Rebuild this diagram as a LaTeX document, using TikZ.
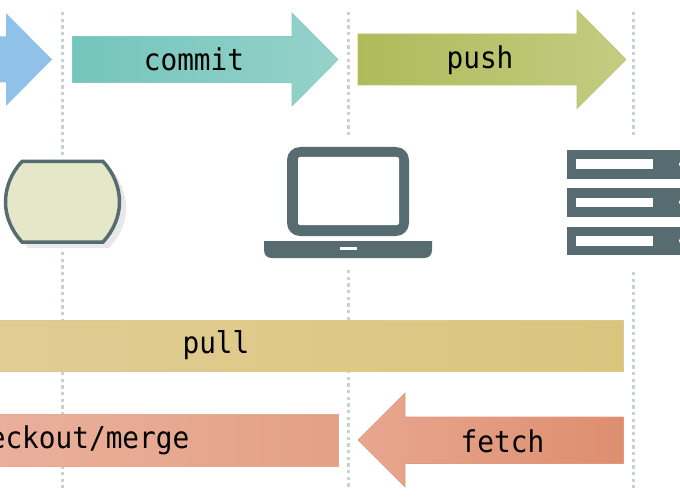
\documentclass[tikz,border=0pt]{standalone}
\usepackage{fontspec}
\newfontfamily\labelfont[FakeStretch=0.925]{DejaVu Sans Mono}
\definecolor{slate}{HTML}{566C70}
\definecolor{guide}{HTML}{C9D1D1}
\definecolor{stagea}{HTML}{90C2E9}
\definecolor{commita}{HTML}{74C5BB}
\definecolor{commitb}{HTML}{95D2CA}
\definecolor{pusha}{HTML}{AEBB59}
\definecolor{pushb}{HTML}{C3CC82}
\definecolor{pulla}{HTML}{E1CD94}
\definecolor{pullb}{HTML}{DBC47E}
\definecolor{mergea}{HTML}{EAB09C}
\definecolor{mergeb}{HTML}{E3A185}
\definecolor{fetcha}{HTML}{E7A78F}
\definecolor{fetchb}{HTML}{DE8E6F}
\definecolor{repofill}{HTML}{E4E7C8}
\tikzset{
  guideline/.style={color=guide,line width=3pt,dash pattern=on 3.3pt off 3.37pt},
  barlabel/.style={anchor=base,inner sep=0pt,font=\labelfont\fontsize{30}{30}\selectfont},
  icon/.style={fill=slate,draw=none},
  band/.style n args={2}{left color=#1,right color=#2,draw=#2!50!#1,line width=0.6pt}
}
\begin{document}
\begin{tikzpicture}[x=1pt,y=-1pt]
	\useasboundingbox (0,0) rectangle (680,500);
	\clip (0,0) rectangle (680,500);
	% guides
	\foreach \gx/\ga/\gb/\gc/\gd in {62/12/155/252/488,348/12/136/270/488,633/12/136/272/488}
		\draw [guideline] (\gx,\ga) -- (\gx,\gb) (\gx,\gc) -- (\gx,\gd);
	% arrows
	\fill [color=stagea] (-40,36.5) -- (6,36.5) -- (6,13) -- (52,59.5) -- (6,106) -- (6,82.5) -- (-40,82.5) -- cycle;
	\path [band={commita}{commitb}] (72.5,36.5) -- (292,36.5) -- (292,13) -- (338,59.5) -- (292,106) -- (292,82.5) -- (72.5,82.5) -- cycle;
	\path [band={pusha}{pushb}] (358,34) -- (577,34) -- (577,10) -- (626,59.5) -- (577,108.5) -- (577,85) -- (358,85) -- cycle;
	\path [band={pulla}{pullb}] (-5,320) rectangle (623.5,371);
	\path [band={mergea}{mergeb}] (-5,414.5) rectangle (338,466);
	\path [band={fetcha}{fetchb}] (358,440) -- (405,393) -- (405,417) -- (623.5,417) -- (623.5,463.5) -- (405,463.5) -- (405,487) -- cycle;
	\node [barlabel] (commit) at (194,71) {commit};
	\node [barlabel] (push) at (480,69) {push};
	\node [barlabel] (pull) at (216,353.5) {pull};
	\node [barlabel,anchor=base east] (merge) at (189.5,448) {checkout/merge};
	\node [barlabel] (fetch) at (502.5,452) {fetch};
	% repository
	\fill [color=black!9] (28,167) -- (109,167) .. controls (121,179) and (126,194) .. (126,208) .. controls (126,222) and (121,236) .. (109,248) -- (28,248) .. controls (16,236) and (11,222) .. (11,208) .. controls (11,194) and (16,179) .. (28,167) -- cycle;
	\draw [color=slate,fill=repofill,line width=3.5pt] (22,161.5) -- (103,161.5) .. controls (114,173) and (119.5,188) .. (119.5,202) .. controls (119.5,216) and (114,230) .. (103,242) -- (22,242) .. controls (11,230) and (5.5,216) .. (5.5,202) .. controls (5.5,188) and (11,173) .. (22,161.5) -- cycle;
	% laptop
	\fill [icon,rounded corners=13pt] (287,147) rectangle (409,236);
	\fill [color=white,rounded corners=2pt] (298,157) rectangle (399,225);
	\fill [icon] (264,241) -- (432,241) -- (432,250) .. controls (432,256) and (428,258) .. (424,258) -- (272,258) .. controls (268,258) and (264,256) .. (264,250) -- cycle;
	\fill [color=white] (340,247) rectangle (357,250);
	% server
	\foreach \sy in {150,188,226.5} {
		\fill [icon] (567,\sy) rectangle (690,\sy+28.5);
		\fill [color=white] (576,\sy+9.5) rectangle (653,\sy+19);
		\fill [color=white] (682,\sy+14.25) circle (3);
	}
\end{tikzpicture}
\end{document}
